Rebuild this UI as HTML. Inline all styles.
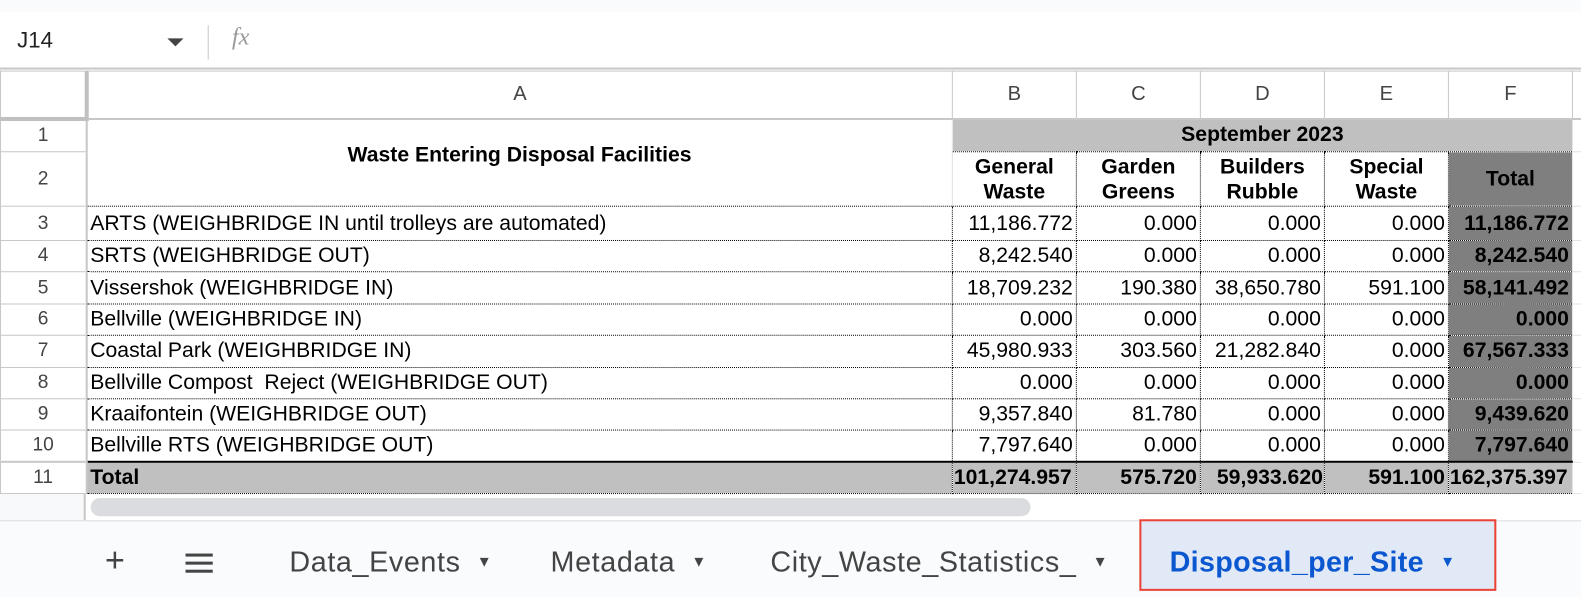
<!DOCTYPE html>
<html><head><meta charset="utf-8">
<style>
*{box-sizing:border-box;margin:0;padding:0}
body{width:1581px;height:592px;overflow:hidden;background:#fff;font-family:"Liberation Sans",Arial,sans-serif;position:relative}
#w{position:absolute;left:0;top:0;width:1581px;height:592px;transform:scale(1.0083);transform-origin:0 0}
.top{position:absolute;left:0;top:0;width:1581px;height:12px;background:#f9fbfd}
.fbar{position:absolute;left:0;top:12px;width:1581px;height:57px;background:#fff;border-bottom:2px solid #c7c7c7}
.abs{position:absolute}
table{position:absolute;left:0;top:70px;width:1581px;border-collapse:collapse;table-layout:fixed;font-size:21px;color:#000}
td{overflow:hidden;white-space:nowrap;padding:0 3px;border:1px solid #e2e2e2}
td.rh{background:#fff;color:#444;text-align:center;border-color:#c7c7c7;border-width:1px 2px 1px 1px;font-size:19px}
tr.ch td{color:#444;text-align:center;border-color:#c7c7c7;border-width:1px 1px 2px 1px;font-size:20px}
td.d{border:1px dotted #000;text-align:right}
td.g{background:#c0c0c0}
td.t{background:#7f7f7f;font-weight:bold;text-align:right}
.tabs{position:absolute;left:0;top:516px;width:1581px;height:76px;background:#f9fbfd;border-top:1px solid #dadce0}
.tab{position:absolute;top:25px;font-size:28.5px;color:#444;letter-spacing:0.6px}
.tab span{font-size:15px;margin-left:16px;vertical-align:5px}
</style></head><body>
<div id="w">
<div class="top"></div>
<div class="fbar">
 <div class="abs" style="left:17px;top:15px;font-size:22px;color:#222">J14</div>
 <div class="abs" style="left:166px;top:26px;width:0;height:0;border-left:8px solid transparent;border-right:8px solid transparent;border-top:8px solid #444"></div>
 <div class="abs" style="left:206px;top:13px;width:1px;height:34px;background:#c7c7c7"></div>
 <div class="abs" style="left:230px;top:12px;font-size:24px;color:#999;font-style:italic;font-family:'Liberation Serif',serif">fx</div>
</div>
<table>
<colgroup><col style="width:85px"><col style="width:859px"><col style="width:123px"><col style="width:123px"><col style="width:123px"><col style="width:123px"><col style="width:123px"><col style="width:22px"></colgroup>
<tr class="ch" style="height:47px"><td style="background:#fff;border-right-width:4px;border-bottom-width:4px;border-right-color:#c0c0c0;border-bottom-color:#c0c0c0"></td><td>A</td><td>B</td><td>C</td><td>D</td><td>E</td><td>F</td><td></td></tr>
<tr style="height:33px"><td class="rh">1</td><td rowspan="2" style="text-align:center;font-weight:bold;vertical-align:middle;padding-bottom:14px;border-bottom:1px dotted #000">Waste Entering Disposal Facilities</td><td colspan="5" class="d g" style="text-align:center;font-weight:bold">September 2023</td><td></td></tr>
<tr style="height:54px"><td class="rh">2</td><td class="d" style="text-align:center;font-weight:bold;line-height:25px">General<br>Waste</td><td class="d" style="text-align:center;font-weight:bold;line-height:25px">Garden<br>Greens</td><td class="d" style="text-align:center;font-weight:bold;line-height:25px">Builders<br>Rubble</td><td class="d" style="text-align:center;font-weight:bold;line-height:25px">Special<br>Waste</td><td class="d t" style="text-align:center">Total</td><td></td></tr>
<tr style="height:34px"><td class="rh">3</td><td class="d" style="text-align:left">ARTS (WEIGHBRIDGE IN until trolleys are automated)</td><td class="d">11,186.772</td><td class="d">0.000</td><td class="d">0.000</td><td class="d">0.000</td><td class="d t">11,186.772</td><td></td></tr>
<tr style="height:31.4px"><td class="rh">4</td><td class="d" style="text-align:left">SRTS (WEIGHBRIDGE OUT)</td><td class="d">8,242.540</td><td class="d">0.000</td><td class="d">0.000</td><td class="d">0.000</td><td class="d t">8,242.540</td><td></td></tr>
<tr style="height:31.4px"><td class="rh">5</td><td class="d" style="text-align:left">Vissershok (WEIGHBRIDGE IN)</td><td class="d">18,709.232</td><td class="d">190.380</td><td class="d">38,650.780</td><td class="d">591.100</td><td class="d t">58,141.492</td><td></td></tr>
<tr style="height:31.4px"><td class="rh">6</td><td class="d" style="text-align:left">Bellville (WEIGHBRIDGE IN)</td><td class="d">0.000</td><td class="d">0.000</td><td class="d">0.000</td><td class="d">0.000</td><td class="d t">0.000</td><td></td></tr>
<tr style="height:31.4px"><td class="rh">7</td><td class="d" style="text-align:left">Coastal Park (WEIGHBRIDGE IN)</td><td class="d">45,980.933</td><td class="d">303.560</td><td class="d">21,282.840</td><td class="d">0.000</td><td class="d t">67,567.333</td><td></td></tr>
<tr style="height:31.4px"><td class="rh">8</td><td class="d" style="text-align:left">Bellville Compost&nbsp; Reject (WEIGHBRIDGE OUT)</td><td class="d">0.000</td><td class="d">0.000</td><td class="d">0.000</td><td class="d">0.000</td><td class="d t">0.000</td><td></td></tr>
<tr style="height:31.4px"><td class="rh">9</td><td class="d" style="text-align:left">Kraaifontein (WEIGHBRIDGE OUT)</td><td class="d">9,357.840</td><td class="d">81.780</td><td class="d">0.000</td><td class="d">0.000</td><td class="d t">9,439.620</td><td></td></tr>
<tr style="height:31.4px"><td class="rh">10</td><td class="d" style="text-align:left">Bellville RTS (WEIGHBRIDGE OUT)</td><td class="d">7,797.640</td><td class="d">0.000</td><td class="d">0.000</td><td class="d">0.000</td><td class="d t">7,797.640</td><td></td></tr>
<tr style="height:31.4px;font-weight:bold"><td class="rh" style="font-weight:normal;border-top:2px solid #c7c7c7">11</td><td class="d g" style="text-align:left;border-top:2px solid #000">Total</td><td class="d g" style="border-top:2px solid #000;padding:0 1px;text-align:left">101,274.957</td><td class="d g" style="border-top:2px solid #000">575.720</td><td class="d g" style="border-top:2px solid #000;padding:0 1px">59,933.620</td><td class="d g" style="border-top:2px solid #000">591.100</td><td class="d g" style="border-top:2px solid #000;padding:0 1px;text-align:left">162,375.397</td><td></td></tr>
</table>
<div class="abs" style="left:0;top:490px;width:85px;height:26px;background:#f8f9fa;border-right:2px solid #c7c7c7"></div>
<div class="abs" style="left:90px;top:494px;width:932px;height:18px;background:#dadce0;border-radius:9px"></div>
<div class="tabs">
 <div class="abs" style="left:104px;top:20px;font-size:34px;color:#444">+</div>
 <div class="abs" style="left:184px;top:32px;width:27px;height:3px;background:#444;box-shadow:0 8px 0 #444,0 16px 0 #444"></div>
 <div class="tab" style="left:287px">Data_Events<span>▼</span></div>
 <div class="tab" style="left:546px">Metadata<span>▼</span></div>
 <div class="tab" style="left:764px">City_Waste_Statistics_<span>▼</span></div>
 <div class="abs" style="left:1130px;top:-2px;width:354px;height:71px;background:#e1e9f7;border:2px solid #ea4335"></div>
 <div class="tab" style="left:1160px;color:#0b57d0;font-weight:bold;letter-spacing:0.3px">Disposal_per_Site<span>▼</span></div>
</div>
</div>
</body></html>
